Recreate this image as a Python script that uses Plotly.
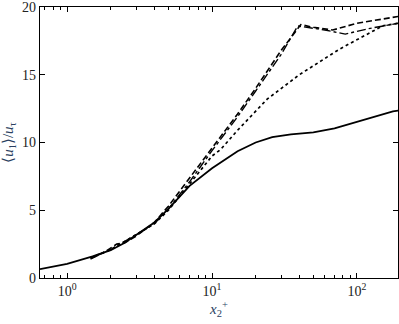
import plotly.graph_objects as go

# mean velocity profiles
x_solid = [0.65, 1.0, 1.5, 2.0, 2.5, 3.0, 4.0, 5.0, 7.0, 10.0, 13.0, 15.0, 20.0, 26.0, 35.0, 50.0, 70.0, 90.0, 130.0, 177.0, 192.0]
u_solid = [0.66, 1.05, 1.6, 2.05, 2.6, 3.2, 4.1, 5.1, 6.8, 8.1, 8.9, 9.35, 10.0, 10.4, 10.6, 10.75, 11.05, 11.4, 11.9, 12.3, 12.35]

x_dash = [1.45, 1.8, 2.2, 2.5, 3.0, 4.0, 5.0, 7.0, 10.0, 15.0, 20.0, 30.0, 41.0, 50.0, 68.0, 100.0, 130.0, 192.0]
u_dash = [1.45, 1.9, 2.5, 2.6, 3.1, 4.1, 5.3, 7.4, 9.6, 12.1, 14.0, 16.8, 18.7, 18.5, 18.3, 18.8, 19.0, 19.3]

x_dashdot = [1.45, 2.0, 3.0, 4.0, 5.0, 7.0, 10.0, 15.0, 20.0, 30.0, 39.0, 60.0, 83.0, 120.0, 192.0]
u_dashdot = [1.4, 2.1, 3.2, 4.0, 5.1, 7.1, 9.4, 11.9, 13.8, 16.5, 18.6, 18.3, 18.0, 18.4, 18.8]

x_dot = [1.45, 2.0, 3.0, 4.0, 5.0, 7.0, 10.0, 11.5, 15.0, 24.0, 40.0, 76.0, 100.0, 150.0, 192.0]
u_dot = [1.5, 2.1, 3.2, 4.0, 5.0, 6.9, 9.0, 9.5, 10.9, 13.2, 15.0, 16.9, 17.6, 18.6, 18.8]

major_ticks = [1, 10, 100]
major_text = ["10<sup>0</sup>", "10<sup>1</sup>", "10<sup>2</sup>"]
minor_ticks = [0.7, 0.8, 0.9, 2, 3, 4, 5, 6, 7, 8, 9, 20, 30, 40, 50, 60, 70, 80, 90]

fig = go.Figure()
fig.add_trace(go.Scatter(x=x_solid, y=u_solid, mode="lines", line=dict(color="black", width=1.8)))
fig.add_trace(go.Scatter(x=x_dash, y=u_dash, mode="lines", line=dict(color="black", width=1.6, dash="6px,3px")))
fig.add_trace(go.Scatter(x=x_dashdot, y=u_dashdot, mode="lines", line=dict(color="black", width=1.4, dash="dashdot")))
fig.add_trace(go.Scatter(x=x_dot, y=u_dot, mode="lines", line=dict(color="black", width=1.7, dash="dot")))

serif = "Liberation Serif"
fig.update_xaxes(
    type="log", range=[-0.187, 2.283],
    tickvals=major_ticks, ticktext=major_text,
    ticks="inside", ticklen=5, tickwidth=1.2, tickcolor="black",
    minor=dict(tickvals=minor_ticks, ticks="inside", ticklen=3, tickcolor="black", showgrid=False),
    showline=True, linecolor="black", linewidth=1.2, mirror="ticks",
    showgrid=False, zeroline=False, automargin=False, ticklabeloverflow="allow",
    title=dict(text="<i>x</i><sub>2</sub><sup>+</sup>", font=dict(family=serif, size=15), standoff=2),
    tickfont=dict(family=serif, size=14, color="#222"),
)
fig.update_yaxes(
    range=[0, 20], tickvals=[0, 5, 10, 15, 20],
    ticks="inside", ticklen=5, tickwidth=1.2, tickcolor="black",
    showline=True, linecolor="black", linewidth=1.2, mirror="ticks",
    showgrid=False, zeroline=False, automargin=False, ticklabeloverflow="allow",
    title=dict(text="⟨<i>u</i><sub>1</sub>⟩/<i>u</i><sub>τ</sub>", font=dict(family=serif, size=15), standoff=4),
    tickfont=dict(family=serif, size=14, color="#222"),
)
fig.update_layout(
    width=399, height=324,
    margin=dict(l=40, r=1, t=7, b=46),
    plot_bgcolor="white", paper_bgcolor="white",
    showlegend=False,
)
# the page body has a default 8px margin; drop it so the figure sits at the corner
fig.write_html("out.html", config={"displayModeBar": False},
               post_script="document.body.style.margin='0';document.body.style.overflow='hidden';")
